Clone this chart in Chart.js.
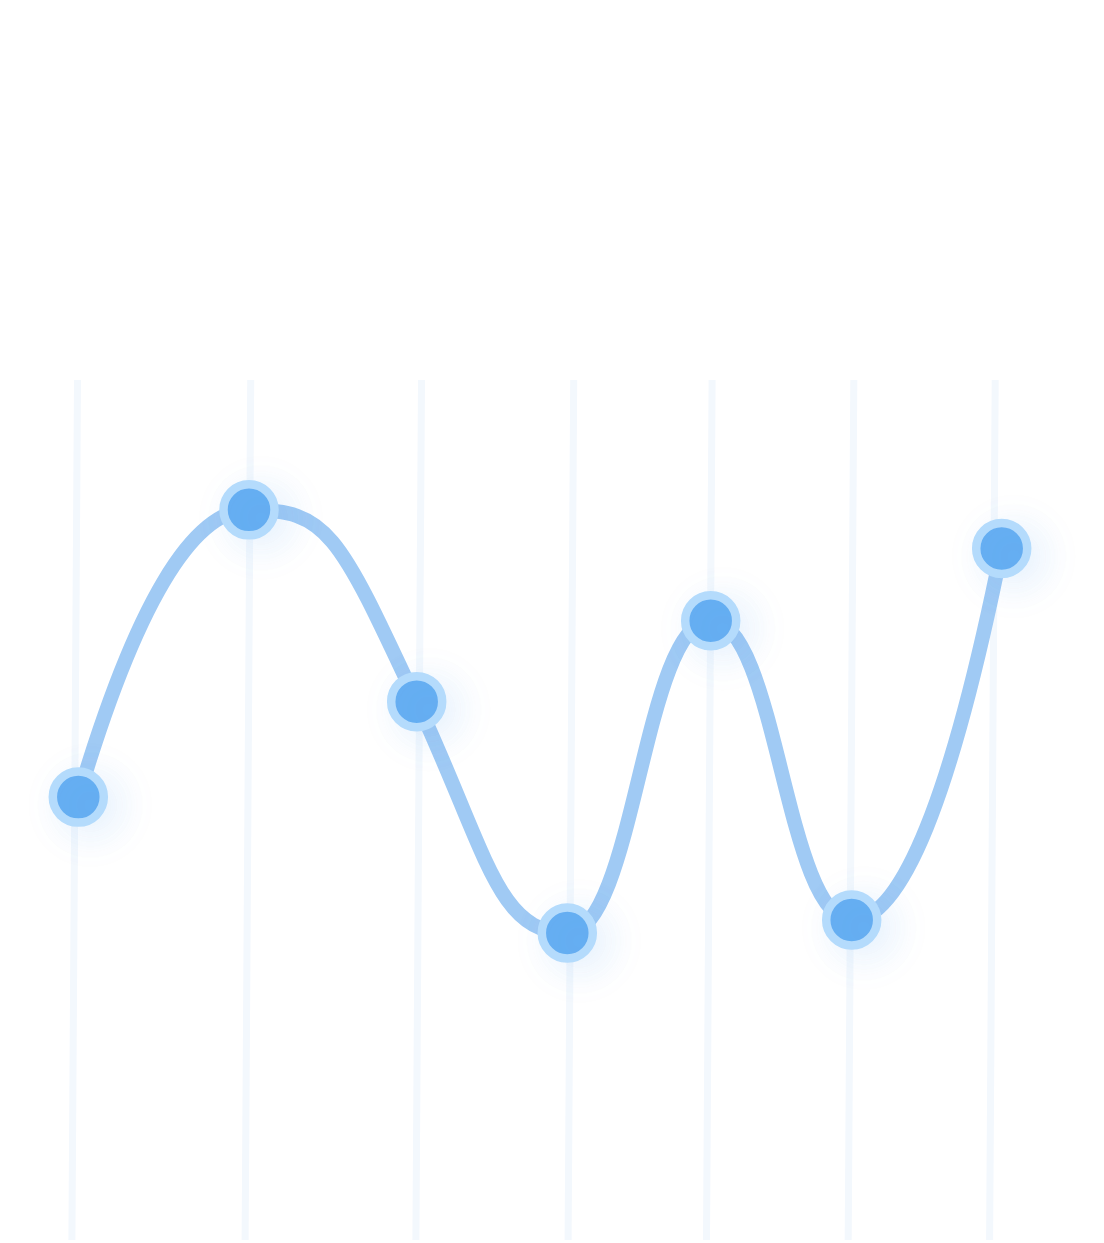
<!DOCTYPE html>
<html>
<head>
<meta charset="utf-8">
<script src="https://cdn.jsdelivr.net/npm/chart.js@4.4.1/dist/chart.umd.min.js"></script>
<style>
  html, body { margin: 0; padding: 0; background: #ffffff; }
  #wrap { position: relative; width: 1104px; height: 1243px; }
</style>
</head>
<body>
<div id="wrap"><canvas id="chart" width="1104" height="1243"></canvas></div>
<script>
// ---- data ----
const xPositions    = [0.783, 2.490, 4.167, 5.673, 7.107, 8.517, 10.017];
const seriesValues  = [51.5, 84.9, 62.6, 35.7, 72.0, 37.2, 80.4];
const gridPositions = [0.747, 2.479, 4.187, 5.709, 7.093, 8.510, 9.924];
const xRange = [0, 11.04];
const yRange = [0, 100];

const points = xPositions.map((x, i) => ({ x: x, y: seriesValues[i] }));

// tilted, soft vertical grid lines
const gridPlugin = {
  id: 'tiltedGrid',
  beforeDatasetsDraw(chart) {
    const { ctx, chartArea, scales } = chart;
    const tilt = 2.8;
    ctx.save();
    ctx.strokeStyle = '#f3f8fd';
    ctx.lineWidth = 7;
    gridPositions.forEach(g => {
      const px = scales.x.getPixelForValue(g);
      ctx.beginPath();
      ctx.moveTo(px + tilt, chartArea.top);
      ctx.lineTo(px - tilt, chartArea.bottom);
      ctx.stroke();
    });
    ctx.restore();
  }
};

// smoother, rounder curve shape: flat at peaks/valleys, long handles
const curvePlugin = {
  id: 'curveShape',
  beforeDatasetDraw(chart, args) {
    if (args.index !== 0) return;
    const meta = chart.getDatasetMeta(0);
    meta.dataset.updateControlPoints(chart.chartArea, 'x');
    const p = meta.data;
    const n = p.length;
    if (n < 3) return;
    const sec = [];
    for (let i = 0; i < n - 1; i++) sec.push((p[i + 1].y - p[i].y) / (p[i + 1].x - p[i].x));
    const m = new Array(n);
    for (let i = 1; i < n - 1; i++) {
      m[i] = (sec[i - 1] * sec[i] <= 0) ? 0 : 1.6 * (sec[i - 1] + sec[i]) / 2;
    }
    m[0] = 2 * sec[0] - m[1];
    m[n - 1] = 2 * sec[n - 2] - m[n - 2];
    for (let i = 0; i < n - 1; i++) {
      const h = p[i + 1].x - p[i].x;
      const k = (i === 0 || i === n - 2) ? 1 / 3 : 0.47;
      p[i].cp2x = p[i].x + k * h;
      p[i].cp2y = p[i].y + m[i] * k * h;
      p[i + 1].cp1x = p[i + 1].x - k * h;
      p[i + 1].cp1y = p[i + 1].y - m[i + 1] * k * h;
    }
  }
};

// soft glow behind the markers
const glowPlugin = {
  id: 'markerGlow',
  beforeDatasetDraw(chart, args) {
    if (args.index !== 1) return;
    const ctx = chart.ctx;
    ctx.save();
    ctx.shadowColor = 'rgba(90, 160, 240, 0.15)';
    ctx.shadowBlur = 40;
    ctx.shadowOffsetX = 12;
    ctx.shadowOffsetY = 8;
  },
  afterDatasetDraw(chart, args) {
    if (args.index !== 1) return;
    chart.ctx.restore();
  }
};

new Chart(document.getElementById('chart').getContext('2d'), {
  type: 'line',
  data: {
    datasets: [
      {
        label: 'line',
        data: points,
        borderColor: '#a0caf4',
        borderWidth: 14.5,
        pointRadius: 0,
        pointHoverRadius: 0,
        cubicInterpolationMode: 'monotone',
        capBezierPoints: false,
        fill: false,
        clip: false,
        order: 1
      },
      {
        label: 'markers',
        data: points,
        showLine: false,
        pointRadius: 25.5,
        pointHoverRadius: 25.5,
        pointBorderWidth: 8.5,
        pointHoverBorderWidth: 8.5,
        pointBackgroundColor: '#66aff2',
        pointBorderColor: '#b4dbfc',
        clip: false,
        order: 0
      }
    ]
  },
  options: {
    responsive: false,
    animation: false,
    events: [],
    layout: { autoPadding: false, padding: { top: 380, bottom: 3, left: 0, right: 0 } },
    scales: {
      x: { type: 'linear', min: xRange[0], max: xRange[1], display: false },
      y: { type: 'linear', min: yRange[0], max: yRange[1], display: false }
    },
    plugins: {
      legend: { display: false },
      tooltip: { enabled: false }
    }
  },
  plugins: [gridPlugin, curvePlugin, glowPlugin]
});
</script>
</body>
</html>
